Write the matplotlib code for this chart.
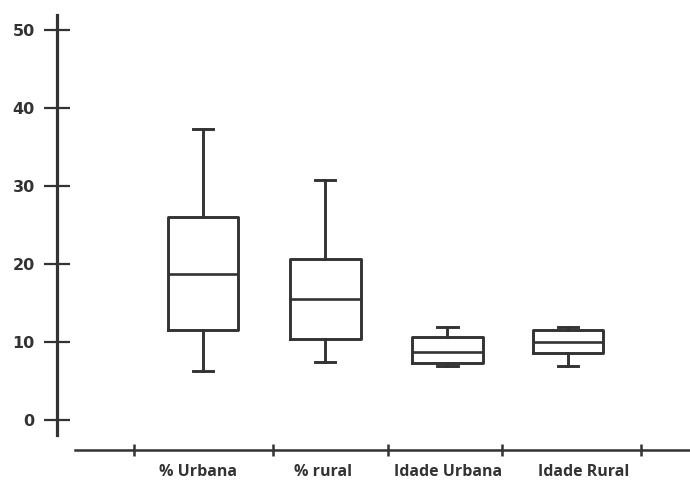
import matplotlib.pyplot as plt

categories = ["% Urbana", "% rural", "Idade Urbana", "Idade Rural"]
whislo = [6.3, 7.4, 7.0, 7.0]
q1 = [11.5, 10.4, 7.3, 8.6]
med = [18.7, 15.5, 8.8, 10.0]
q3 = [26.0, 20.6, 10.6, 11.6]
whishi = [37.3, 30.8, 12.0, 11.9]
yticks = [0, 10, 20, 30, 40, 50]

dark = "#333333"

stats = []
for lab, lo, a, m, b, hi in zip(categories, whislo, q1, med, q3, whishi):
    stats.append({"label": lab, "whislo": lo, "q1": a, "med": m,
                  "q3": b, "whishi": hi, "fliers": []})

fig = plt.figure(figsize=(6.9, 4.82), dpi=100)
ax = fig.add_axes([57 / 690, 32 / 482, 633 / 690, 436 / 482])

line = dict(color=dark, linewidth=2.1)
ax.bxp(stats, positions=[1, 2, 3, 3.99], widths=0.58, showfliers=False,
       boxprops=line, medianprops=dict(color=dark, linewidth=1.9),
       whiskerprops=line, capprops=line, capwidths=0.17)

ax.set_xlim(-0.197, 4.99)
ax.set_ylim(-3.8, 52)

for s in ["top", "right"]:
    ax.spines[s].set_visible(False)
ax.spines["left"].set_color(dark)
ax.spines["left"].set_linewidth(2.3)
ax.spines["left"].set_bounds(-1.9, 51.9)
ax.spines["bottom"].set_color(dark)
ax.spines["bottom"].set_linewidth(1.8)
ax.spines["bottom"].set_bounds(-0.05, 4.99)

ax.set_yticks(yticks)
ax.set_yticklabels([str(v) for v in yticks], fontweight="bold", fontsize=11.5,
                   color=dark)
ax.tick_params(axis="y", direction="inout", length=19, width=1.6,
               color=dark, pad=6.5)

ax.set_xticks([0.96, 1.98, 3.01, 4.12])
ax.set_xticklabels(categories, fontweight="bold", fontsize=11.5,
                   color=dark, family="Open Sans")
ax.tick_params(axis="x", which="major", length=0, pad=10)
ax.set_xticks([0.434, 1.574, 2.516, 3.451, 4.59], minor=True)
ax.tick_params(axis="x", which="minor", direction="inout", length=9,
               width=1.8, color=dark)

fig.savefig("out.png", dpi=100)
